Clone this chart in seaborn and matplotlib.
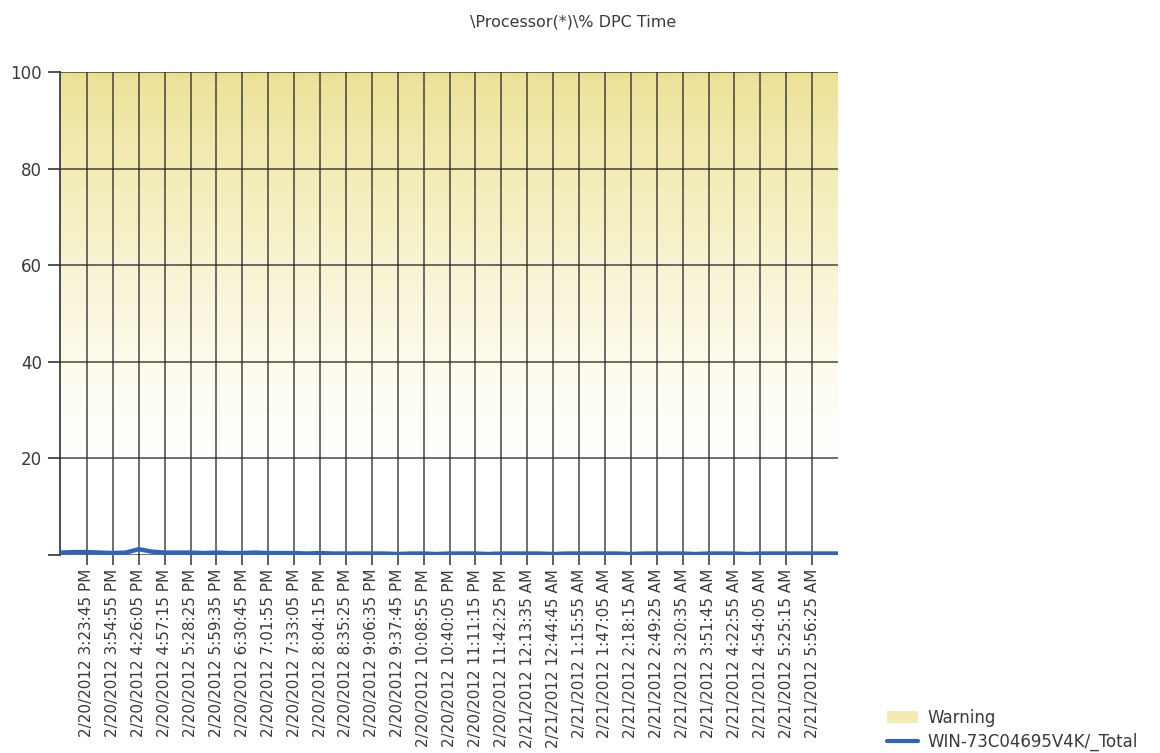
import numpy as np
import pandas as pd
import matplotlib
matplotlib.use("Agg")
import matplotlib.pyplot as plt
import seaborn as sns
from matplotlib.colors import LinearSegmentedColormap
from matplotlib.patches import Patch
from matplotlib.lines import Line2D

# ---------------- data ----------------
title = "\\Processor(*)\\% DPC Time"
tick_labels = [
    "2/20/2012 3:23:45 PM", "2/20/2012 3:54:55 PM", "2/20/2012 4:26:05 PM",
    "2/20/2012 4:57:15 PM", "2/20/2012 5:28:25 PM", "2/20/2012 5:59:35 PM",
    "2/20/2012 6:30:45 PM", "2/20/2012 7:01:55 PM", "2/20/2012 7:33:05 PM",
    "2/20/2012 8:04:15 PM", "2/20/2012 8:35:25 PM", "2/20/2012 9:06:35 PM",
    "2/20/2012 9:37:45 PM", "2/20/2012 10:08:55 PM", "2/20/2012 10:40:05 PM",
    "2/20/2012 11:11:15 PM", "2/20/2012 11:42:25 PM", "2/21/2012 12:13:35 AM",
    "2/21/2012 12:44:45 AM", "2/21/2012 1:15:55 AM", "2/21/2012 1:47:05 AM",
    "2/21/2012 2:18:15 AM", "2/21/2012 2:49:25 AM", "2/21/2012 3:20:35 AM",
    "2/21/2012 3:51:45 AM", "2/21/2012 4:22:55 AM", "2/21/2012 4:54:05 AM",
    "2/21/2012 5:25:15 AM", "2/21/2012 5:56:25 AM",
]
series_name = "WIN-73C04695V4K/_Total"
warning_name = "Warning"
# sample positions in tick units (one sample every half tick interval)
sample_pos = [i * 0.5 - 1.0 for i in range(61)]
dpc_values = [
    0.5, 0.6, 0.6, 0.5, 0.4, 0.5, 1.2, 0.7, 0.5, 0.5,
    0.5, 0.4, 0.5, 0.4, 0.4, 0.5, 0.4, 0.4, 0.4, 0.3,
    0.4, 0.3, 0.3, 0.3, 0.3, 0.3, 0.2, 0.3, 0.3, 0.2,
    0.3, 0.3, 0.3, 0.2, 0.3, 0.3, 0.3, 0.3, 0.2, 0.3,
    0.3, 0.3, 0.3, 0.3, 0.2, 0.3, 0.3, 0.3, 0.3, 0.2,
    0.3, 0.3, 0.3, 0.2, 0.3, 0.3, 0.3, 0.3, 0.3, 0.3,
    0.3,
]
y_ticks = [0, 20, 40, 60, 80, 100]
y_tick_labels = ["", "20", "40", "60", "80", "100"]

df = pd.DataFrame({"pos": sample_pos, "value": dpc_values})

# ---------------- style ----------------
sns.set_theme(style="white")
plt.rcParams["font.family"] = ["DejaVu Sans"]

fig = plt.figure(figsize=(11.6, 7.53), dpi=100)
ax = fig.add_axes([60 / 1160, 1 - 555 / 753, (838 - 60) / 1160, (555 - 72) / 753])

xmin, xmax = -1.04, 29.0

# warning gradient background
cmap = LinearSegmentedColormap.from_list(
    "warn",
    [(0.0, "#FFFFFF"), (0.2, "#FFFFFF"), (0.4, "#FDFBEC"), (0.6, "#F8F3D2"),
     (0.8, "#F3ECB6"), (0.97, "#EDE39C"), (1.0, "#E9DF92")],
)
grad = np.linspace(0, 1, 512).reshape(-1, 1)
ax.imshow(grad, extent=(xmin, xmax, 0, 100), origin="lower", aspect="auto",
          cmap=cmap, zorder=0, interpolation="bilinear")

sns.lineplot(data=df, x="pos", y="value", ax=ax, color="#2F63B9",
             linewidth=3.2, zorder=5, legend=False)

ax.set_xlim(xmin, xmax)
ax.set_ylim(0, 100)
ax.set_xticks(range(len(tick_labels)))
ax.set_xticklabels(tick_labels, rotation=90, fontsize=11, color="#3a3a3a")
ax.set_yticks(y_ticks)
ax.set_yticklabels(y_tick_labels, fontsize=12, color="#3a3a3a")
ax.set_xlabel("")
ax.set_ylabel("")

ax.grid(True, axis="both", color="#262626", alpha=0.85, linewidth=1.1, zorder=2)
ax.set_axisbelow(False)
for s in ["top", "right", "bottom"]:
    ax.spines[s].set_visible(False)
ax.spines["left"].set_color("#404040")
ax.spines["left"].set_linewidth(1.3)
ax.tick_params(axis="y", left=True, length=9, width=1.2, color="#333333", pad=4)
ax.tick_params(axis="x", bottom=True, length=7, width=1.1, color="#333333", pad=3)

fig.suptitle(title, x=573 / 1160, y=1 - 22 / 753, va="center", fontsize=11.5,
             color="#3a3a3a")

handles = [
    Patch(facecolor="#F2EBB2", edgecolor="none"),
    Line2D([0], [0], color="#2F63B9", linewidth=3),
]
fig.legend(handles, [warning_name, series_name], loc="lower left",
           bbox_to_anchor=(887 / 1160, 2 / 753), frameon=False, borderpad=0,
           fontsize=12, labelcolor="#3a3a3a", handlelength=1.85,
           handletextpad=0.6, labelspacing=0.35, borderaxespad=0)

fig.savefig("out.png", dpi=100, facecolor="white")
